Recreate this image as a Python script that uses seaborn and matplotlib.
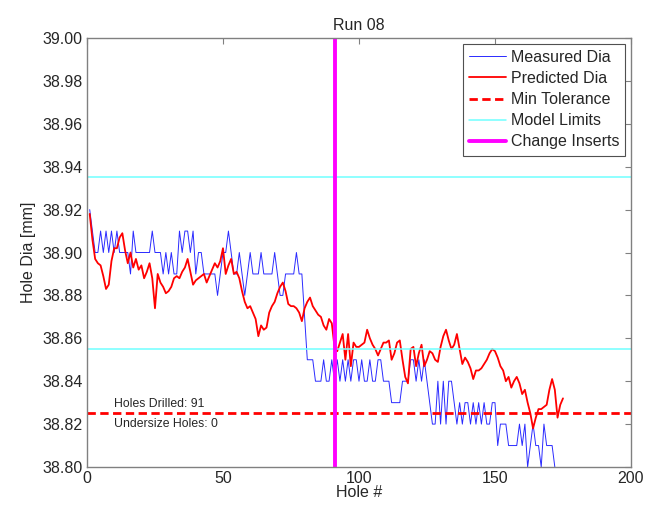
import numpy as np
import pandas as pd
import matplotlib
matplotlib.use("Agg")
import matplotlib.pyplot as plt
import seaborn as sns

# ---- data ----
measured_hundredths = [
    12, 11, 10, 10, 11, 10, 11, 10, 11, 10,
    11, 10, 10, 10, 10, 9, 11, 10, 10, 10,
    10, 10, 10, 11, 10, 10, 10, 9, 10, 9,
    10, 9, 9, 11, 10, 11, 11, 10, 11, 9,
    10, 10, 9, 9, 9, 9, 9, 8, 9, 10,
    10, 11, 10, 9, 9, 10, 9, 8, 9, 10,
    9, 9, 9, 10, 9, 9, 9, 9, 10, 9,
    8, 8, 9, 9, 9, 9, 10, 9, 9, 7,
    5, 5, 5, 4, 4, 4, 5, 4, 4, 5,
    4, 5, 4, 5, 4, 5, 4, 5, 5, 4,
    5, 4, 4, 5, 4, 4, 5, 5, 4, 4,
    4, 3, 3, 3, 3, 4, 4, 4, 5, 5,
    4, 5, 4, 5, 4, 3, 2, 2, 4, 2,
    4, 2, 4, 4, 3, 2, 3, 2, 3, 3,
    2, 3, 2, 3, 2, 3, 2, 2, 3, 3,
    1, 2, 2, 2, 1, 1, 1, 1, 2, 1,
    2, 0, 1, 2, 1, 1, 0, 2, 1, 1,
    1, 0,
]
measured_dia = [38.80 + v / 100 for v in measured_hundredths]

predicted_dia = [
    38.918, 38.906, 38.897, 38.895, 38.894, 38.889, 38.883, 38.885, 38.896, 38.902,
    38.902, 38.907, 38.909, 38.901, 38.895, 38.900, 38.893, 38.897, 38.892, 38.894,
    38.888, 38.891, 38.895, 38.888, 38.874, 38.890, 38.886, 38.884, 38.881, 38.882,
    38.884, 38.888, 38.889, 38.888, 38.891, 38.893, 38.897, 38.891, 38.885, 38.887,
    38.888, 38.889, 38.890, 38.886, 38.889, 38.892, 38.895, 38.893, 38.896, 38.902,
    38.890, 38.894, 38.897, 38.890, 38.891, 38.888, 38.882, 38.877, 38.874, 38.875,
    38.872, 38.869, 38.861, 38.866, 38.864, 38.865, 38.872, 38.875, 38.877, 38.881,
    38.884, 38.886, 38.882, 38.876, 38.875, 38.875, 38.874, 38.872, 38.868, 38.874,
    38.877, 38.879, 38.875, 38.873, 38.871, 38.870, 38.866, 38.864, 38.869, 38.867,
    38.856, 38.854, 38.858, 38.862, 38.850, 38.862, 38.847, 38.858, 38.856, 38.856,
    38.857, 38.858, 38.864, 38.860, 38.857, 38.855, 38.852, 38.855, 38.858, 38.858,
    38.859, 38.850, 38.853, 38.858, 38.859, 38.850, 38.842, 38.839, 38.855, 38.856,
    38.847, 38.853, 38.857, 38.847, 38.850, 38.854, 38.853, 38.850, 38.849, 38.856,
    38.861, 38.864, 38.859, 38.855, 38.857, 38.862, 38.855, 38.848, 38.851, 38.849,
    38.846, 38.841, 38.845, 38.845, 38.846, 38.848, 38.850, 38.853, 38.855, 38.854,
    38.851, 38.847, 38.845, 38.840, 38.842, 38.837, 38.840, 38.842, 38.839, 38.834,
    38.836, 38.830, 38.825, 38.818, 38.823, 38.827, 38.827, 38.828, 38.829, 38.836,
    38.841, 38.836, 38.823, 38.829, 38.832,
]

min_tolerance = 38.825
model_limits = [38.935, 38.855]
change_inserts_hole = 91
holes_drilled = 91
undersize_holes = 0
x_ticks = [0, 50, 100, 150, 200]
y_ticks = [38.80, 38.82, 38.84, 38.86, 38.88, 38.90, 38.92, 38.94, 38.96, 38.98, 39.00]

meas_df = pd.DataFrame({"hole": np.arange(1, len(measured_dia) + 1), "dia": measured_dia})
pred_df = pd.DataFrame({"hole": np.arange(1, len(predicted_dia) + 1), "dia": predicted_dia})

# ---- plot ----
sns.set_style("white")
plt.rcParams["font.family"] = ["Liberation Sans", "DejaVu Sans"]

fig = plt.figure(figsize=(6.57, 5.07), dpi=100)
ax = fig.add_axes([0.1324, 0.0789, 0.8280, 0.8461])

sns.lineplot(data=meas_df, x="hole", y="dia", ax=ax, color="#2a2aff", lw=0.7,
             label="Measured Dia", estimator=None)
sns.lineplot(data=pred_df, x="hole", y="dia", ax=ax, color="#ff0000", lw=1.3,
             label="Predicted Dia", estimator=None)
ax.axhline(min_tolerance, color="#ff0000", lw=2.0, ls=(0, (3, 1.6)), label="Min Tolerance")
ax.axhline(model_limits[0], color="#70ffff", lw=1.1, label="Model Limits")
ax.axhline(model_limits[1], color="#70ffff", lw=1.1)
ax.axvline(change_inserts_hole, color="#ff00ff", lw=2.8, label="Change Inserts")

ax.text(10, 38.8295, f"Holes Drilled: {holes_drilled}", fontsize=8.8, va="center")
ax.text(10, 38.8200, f"Undersize Holes: {undersize_holes}", fontsize=8.8, va="center")

ax.set_xlim(0, 200)
ax.set_ylim(38.80, 39.00)
ax.set_xticks(x_ticks)
ax.set_yticks(y_ticks)
ax.set_yticklabels([f"{t:.2f}" for t in y_ticks])
ax.tick_params(direction="in", length=4, width=0.8, color="#808080",
               labelsize=11.5, top=True, right=True, pad=3)
for s in ax.spines.values():
    s.set_color("#808080")
    s.set_linewidth(1.0)

ax.set_title("Run 08", fontsize=11.5, pad=6)
ax.set_xlabel("Hole #", fontsize=11.5, labelpad=-1)
ax.set_ylabel("Hole Dia [mm]", fontsize=11.5, labelpad=5)

leg = ax.legend(loc="upper right", fontsize=11.5, frameon=True, fancybox=False,
                edgecolor="#505050", framealpha=1, borderpad=0.4, labelspacing=0.38,
                handlelength=2.3, handletextpad=0.3, borderaxespad=0.35)
leg.get_frame().set_linewidth(0.8)

fig.savefig("out.png", dpi=100)
